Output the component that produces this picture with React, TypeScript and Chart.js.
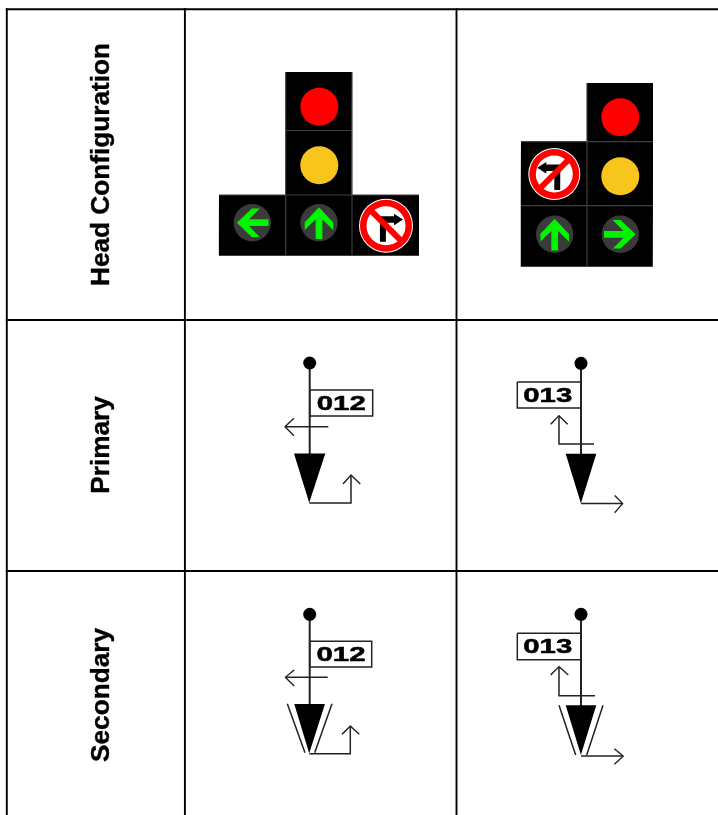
import React, { useEffect, useRef } from "react";
import { Chart, registerables } from "chart.js";

Chart.register(...registerables);

type P = [number, number];

const WIDTH = 718;
const HEIGHT = 815;

// table text
const rowLabels = ["Head Configuration", "Primary", "Secondary"];
const rowLabelCentres = [164.5, 445, 695];
const phaseLabels = ["012", "013", "012", "013"];

// table rules
const columnRules = [6.8, 184.9, 456.5];
const rowRules = [9.2, 320, 571];

// signal housings (black blocks) and their divider lines
const housings: P[][] = [
  [[285.7, 72], [352, 72], [352, 195], [419, 195], [419, 255.7], [219, 255.7], [219, 195], [285.7, 195]],
  [[587, 83], [653, 83], [653, 266.7], [521, 266.7], [521, 141.7], [587, 141.7]],
];
const housingDividers: P[][] = [
  [[285.7, 130.5], [352, 130.5]],
  [[219, 195], [419, 195]],
  [[285.7, 72], [285.7, 255.7]],
  [[352, 72], [352, 255.7]],
  [[521, 141.7], [653, 141.7]],
  [[521, 205.7], [653, 205.7]],
  [[587, 83], [587, 266.7]],
];

// lenses
const redLenses: P[] = [[319.3, 106.7], [620.3, 117.3]];
const yellowLenses: P[] = [[319.3, 165.3], [620.3, 176.3]];
const arrowLenses: { c: P; dir: P }[] = [
  { c: [252.3, 222.7], dir: [-1, 0] },
  { c: [319, 222.7], dir: [0, -1] },
  { c: [554.7, 234.3], dir: [0, -1] },
  { c: [620.3, 234.3], dir: [1, 0] },
];
const prohibitedTurns: { c: P; r: number; mirror: number }[] = [
  { c: [386, 225.7], r: 27, mirror: 1 },
  { c: [554.3, 174], r: 26, mirror: -1 },
];

// arrow outline as [along, across] about the lens centre
const lensArrow: P[] = [
  [15.5, 0], [0.3, 14.3], [-7.5, 14.3], [3.2, 3.4], [-16.3, 3.4], [-16.3, -3.4], [3.2, -3.4], [-7.5, -14.3], [0.3, -14.3],
];
const turnBar: P[] = [[-6, 16], [-6, -9.5], [8, -9.5], [8, -12], [17, -6.3], [8, -0.5], [8, -3], [0, -3], [0, 16]];

// phase symbols
const symbols: {
  postX: number;
  dotY: number;
  tri: P[];
  box: P[];
  text: P;
  shafts: P[][];
  heads: P[][];
  visors: P[][];
}[] = [
  {
    postX: 309.7, dotY: 363,
    tri: [[294, 453.5], [325.3, 453.5], [309.3, 502.8]],
    box: [[309.7, 390], [372.7, 390], [372.7, 416], [309.7, 416]],
    text: [341.3, 403.3],
    shafts: [[[328.3, 426.7], [285, 426.7]], [[309.3, 503], [351, 503], [351, 475]]],
    heads: [[[294, 418.3], [285, 426.7], [294, 435.7]], [[343, 484], [351, 475], [360.3, 484]]],
    visors: [],
  },
  {
    postX: 581, dotY: 363.3,
    tri: [[565.7, 453.7], [596.3, 453.7], [581, 503.3]],
    box: [[517.3, 382], [581, 382], [581, 408], [517.3, 408]],
    text: [547.7, 395],
    shafts: [[[594, 444], [559, 444], [559, 415.7]], [[581, 503.5], [622.7, 503.5]]],
    heads: [[[550.7, 424.3], [559, 415.7], [567.7, 424.3]], [[614.7, 495.5], [622.7, 503.5], [614.7, 512.7]]],
    visors: [],
  },
  {
    postX: 309.7, dotY: 614.3,
    tri: [[294.3, 704], [325, 704], [309.3, 753.3]],
    box: [[309.7, 641.3], [371.7, 641.3], [371.7, 667], [309.7, 667]],
    text: [341, 654],
    shafts: [[[327.7, 677.3], [285.3, 677.3]], [[309.3, 753.7], [350.3, 753.7], [350.3, 726]]],
    heads: [[[294.3, 670], [285.3, 677.3], [294.3, 686]], [[342, 734.3], [350.3, 726], [359.3, 734.3]]],
    visors: [[[287.3, 703.7], [305, 752.7]], [[332, 703.7], [314.7, 752.7]]],
  },
  {
    postX: 581, dotY: 614.3,
    tri: [[565.7, 705.3], [596.3, 705.3], [581, 755]],
    box: [[517.3, 633.3], [581, 633.3], [581, 659.7], [517.3, 659.7]],
    text: [547.7, 646.5],
    shafts: [[[595, 695.7], [559, 695.7], [559, 666.7]], [[581, 756], [623.3, 756]]],
    heads: [[[550.7, 675], [559, 666.7], [568.3, 675]], [[614.3, 748.7], [623.3, 756], [614.3, 764.3]]],
    visors: [[[559, 705.3], [575.7, 755]], [[603, 705.3], [586.7, 755]]],
  },
];

const xy = (pts: P[]) => pts.map(([x, y]) => ({ x, y }));

const polyline = (pts: P[], color: string, width: number, join = "miter") => ({
  type: "line" as const,
  data: xy(pts),
  borderColor: color,
  borderWidth: width,
  borderJoinStyle: join,
  tension: 0.0001,
  pointRadius: 0,
  fill: false,
  clip: false,
});
const polygon = (pts: P[], color: string) => ({
  type: "line" as const,
  data: xy([...pts, pts[0]]),
  borderColor: color,
  borderWidth: 0,
  backgroundColor: color,
  tension: 0.0001,
  pointRadius: 0,
  fill: "shape",
  clip: false,
});
const disc = (c: P, r: number, color: string) => ({
  type: "line" as const,
  data: xy([c]),
  showLine: false,
  pointRadius: r,
  pointBorderWidth: 0,
  pointBackgroundColor: color,
  fill: false,
  clip: false,
});

function buildDatasets() {
  const out: any[] = [];
  for (const x of columnRules) out.push(polyline([[x, rowRules[0] - 1], [x, HEIGHT]], "#000000", 1.9));
  for (const y of rowRules) out.push(polyline([[columnRules[0] - 1, y], [WIDTH, y]], "#000000", 1.9));

  for (const h of housings) out.push(polygon(h, "#000000"));
  for (const d of housingDividers) out.push(polyline(d, "#3f3f3f", 1.2));
  for (const c of redLenses) out.push(disc(c, 19, "#ff0000"));
  for (const c of yellowLenses) out.push(disc(c, 19, "#f8c51c"));

  for (const { c, dir } of arrowLenses) {
    out.push(disc(c, 18.7, "#3a3a3a"));
    const pts = lensArrow.map(([a, b]): P => [c[0] + dir[0] * a - dir[1] * b, c[1] + dir[1] * a + dir[0] * b]);
    out.push(polygon(pts, "#00f400"));
  }

  for (const { c, r, mirror } of prohibitedTurns) {
    out.push(disc(c, r, "#ffffff"));
    out.push(disc(c, r - 1, "#ff0000"));
    out.push(disc(c, r - 7.5, "#ffffff"));
    out.push(polygon(turnBar.map(([a, b]): P => [c[0] + mirror * a, c[1] + b]), "#000000"));
    const k = (r - 4) * 0.707;
    out.push(polyline([[c[0] - mirror * k, c[1] - k], [c[0] + mirror * k, c[1] + k]], "#ff0000", 6));
  }

  for (const s of symbols) {
    out.push(polyline([s.box[0], s.box[1], s.box[2], s.box[3], s.box[0]], "#222222", 1.5));
    out.push(polyline([[s.postX, s.dotY], [s.postX, s.tri[0][1] + 1]], "#222222", 2));
    out.push(disc([s.postX, s.dotY], 6.5, "#000000"));
    out.push(polygon(s.tri, "#000000"));
    for (const v of s.visors) out.push(polyline(v, "#222222", 1.5));
    for (const l of s.shafts) out.push(polyline(l, "#222222", 1.5));
    for (const l of s.heads) out.push(polyline(l, "#222222", 1.4));
  }
  out.forEach((d, i) => (d.order = out.length - i));
  return out;
}

const textPlugin = {
  id: "tableText",
  afterDatasetsDraw(chart: any) {
    const { ctx, scales } = chart;
    const { x: sx, y: sy } = scales;
    ctx.save();
    ctx.fillStyle = "#000000";
    ctx.strokeStyle = "#000000";
    ctx.lineJoin = "round";
    ctx.textBaseline = "alphabetic";
    ctx.textAlign = "center";
    rowLabels.forEach((label, i) => {
      ctx.save();
      ctx.translate(sx.getPixelForValue(109.3), sy.getPixelForValue(rowLabelCentres[i]));
      ctx.rotate(-Math.PI / 2);
      ctx.font = 'bold 26.2px "Liberation Sans", Arial, sans-serif';
      ctx.lineWidth = 0.4;
      ctx.fillText(label, 0, 0);
      ctx.strokeText(label, 0, 0);
      ctx.restore();
    });
    phaseLabels.forEach((label, i) => {
      const [tx, ty] = symbols[i].text;
      ctx.save();
      ctx.translate(sx.getPixelForValue(tx), sy.getPixelForValue(ty));
      ctx.scale(1.4, 1);
      ctx.font = 'bold 21px "Liberation Sans", Arial, sans-serif';
      ctx.lineWidth = 0.5;
      ctx.textBaseline = "middle";
      ctx.fillText(label, 0, 0.8);
      ctx.strokeText(label, 0, 0.8);
      ctx.restore();
    });
    ctx.restore();
  },
};

export default function App() {
  const ref = useRef<HTMLCanvasElement>(null);
  useEffect(() => {
    const chart = new Chart(ref.current!, {
      type: "line",
      data: { datasets: buildDatasets() },
      options: {
        animation: false,
        responsive: false,
        devicePixelRatio: 1,
        layout: { padding: 0, autoPadding: false },
        plugins: { legend: { display: false }, tooltip: { enabled: false }, title: { display: false } },
        scales: {
          x: { type: "linear", display: false, min: 0, max: WIDTH },
          y: { type: "linear", display: false, min: 0, max: HEIGHT, reverse: true },
        },
      },
      plugins: [textPlugin],
    } as any);
    return () => chart.destroy();
  }, []);
  return (
    <div style={{ position: "absolute", left: 0, top: 0, width: WIDTH, height: HEIGHT, background: "#ffffff" }}>
      <canvas ref={ref} width={WIDTH} height={HEIGHT} style={{ display: "block" }} />
    </div>
  );
}
